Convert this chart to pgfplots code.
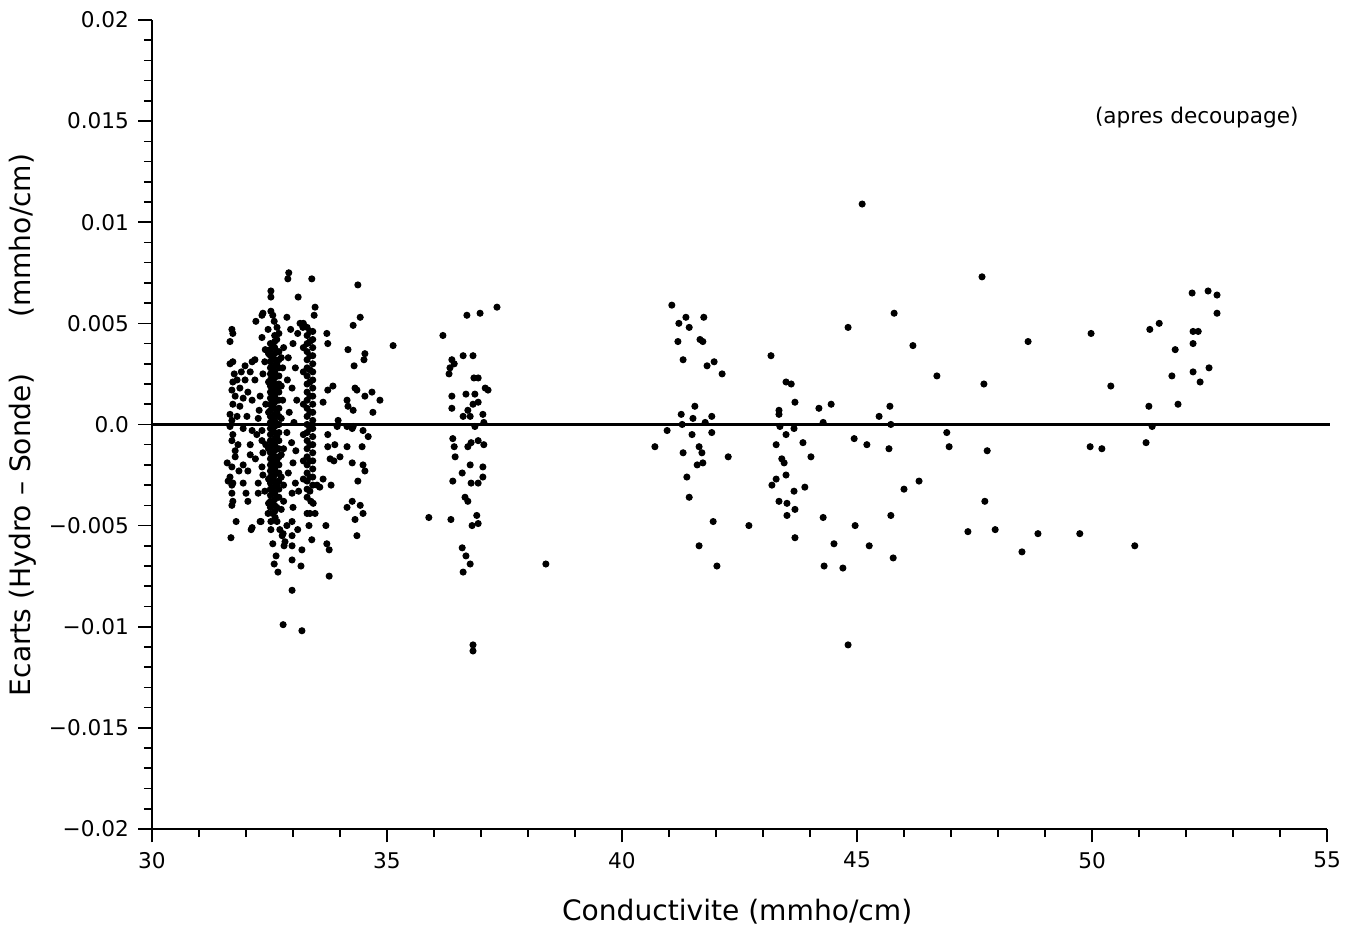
\documentclass[border=0pt]{standalone}
\usepackage{fontspec}
\setmainfont{DejaVu Sans}
\usepackage{pgfplots}
\pgfplotsset{compat=1.18}
\begin{document}
\begin{tikzpicture}
\begin{axis}[name=ax, scale only axis, width=434.75pt, height=299.3pt,
 xmin=30, xmax=55, ymin=-0.02, ymax=0.02,
 axis lines*=left, axis line style={line width=0.8pt},
 xtick={30,35,40,45,50,55}, minor x tick num=4,
 ytick={-0.02,-0.015,-0.01,-0.005,0,0.005,0.01,0.015,0.02},
 yticklabels={−0.02,−0.015,−0.01,−0.005,0.0,0.005,0.01,0.015,0.02},
 minor y tick num=4,
 tick align=outside, major tick length=5pt, minor tick length=3pt,
 tick style={line width=0.6pt, black},
 ticklabel style={font=\fontsize{8}{9}\selectfont},
 /pgf/number format/assume math mode=true,
 scaled y ticks=false,
 xlabel={Conductivite (mmho/cm)},
 ylabel={Ecarts (Hydro -- Sonde)\hspace{2em}(mmho/cm)},
 label style={font=\fontsize{10.4}{12}\selectfont},
 xlabel style={at={(axis description cs:0.498,-0.1026)}, anchor=center},
 ylabel style={at={(axis description cs:-0.11,0.4994)}, anchor=center},
 clip=false]
\addplot[black, line width=1pt] coordinates {(30,0) (55.06,0)};
\addplot[only marks, mark=*, mark size=1.1pt, black] table[row sep=\\] {
x y\\
31.70 0.0047\\ 31.72 0.0045\\ 31.66 0.0041\\ 32.34 0.0043\\ 32.21 0.0051\\ 32.36 0.0055\\ 32.34 0.0054\\ 32.41 0.0037\\
31.66 0.0030\\ 31.72 0.0031\\ 31.98 0.0029\\ 32.13 0.0031\\ 32.19 0.0032\\ 32.09 0.0026\\ 32.36 0.0025\\ 31.72 0.0021\\
31.81 0.0022\\ 31.98 0.0022\\ 32.19 0.0022\\ 31.70 0.0017\\ 31.77 0.0014\\ 31.94 0.0013\\ 32.13 0.0012\\ 32.30 0.0014\\
31.72 0.0010\\ 31.87 0.0009\\ 31.66 0.0005\\ 31.81 0.0004\\ 32.02 0.0004\\ 32.26 0.0003\\ 31.70 0.0002\\ 31.66 -0.0001\\
31.94 -0.0002\\ 32.13 -0.0003\\ 32.34 -0.0003\\ 31.72 -0.0005\\ 32.23 -0.0005\\ 31.70 -0.0008\\ 31.83 -0.0010\\ 32.09 -0.0010\\
32.34 -0.0008\\ 31.77 -0.0013\\ 32.36 -0.0014\\ 32.09 -0.0015\\ 31.60 -0.0019\\ 31.70 -0.0021\\ 31.94 -0.0020\\ 32.04 -0.0023\\
32.34 -0.0021\\ 31.66 -0.0026\\ 31.72 -0.0029\\ 31.94 -0.0029\\ 32.26 -0.0029\\ 31.70 -0.0034\\ 31.72 -0.0038\\ 32.04 -0.0038\\
32.26 -0.0034\\ 31.70 -0.0040\\ 31.79 -0.0048\\ 32.13 -0.0051\\ 32.30 -0.0048\\ 31.68 -0.0056\\ 32.11 -0.0052\\ 32.32 -0.0048\\
31.62 -0.0028\\ 31.70 -0.0030\\ 32.36 -0.0025\\ 32.40 -0.0033\\ 31.77 -0.0016\\ 31.87 0.0018\\ 32.04 0.0016\\ 31.85 -0.0023\\
32.20 -0.0017\\ 31.90 0.0026\\ 32.28 0.0007\\ 31.75 0.0025\\ 32.00 -0.0034\\ 32.42 0.0010\\ 32.42 -0.0010\\ 32.40 0.0031\\
32.52 0.0040\\ 32.52 0.0037\\ 32.52 0.0034\\ 32.52 0.0031\\ 32.52 0.0028\\ 32.52 0.0025\\ 32.52 0.0022\\ 32.52 0.0019\\
32.52 0.0016\\ 32.52 0.0013\\ 32.52 0.0010\\ 32.52 0.0007\\ 32.52 0.0004\\ 32.52 0.0001\\ 32.52 -0.0002\\ 32.52 -0.0005\\
32.52 -0.0008\\ 32.52 -0.0011\\ 32.52 -0.0014\\ 32.52 -0.0017\\ 32.52 -0.0020\\ 32.52 -0.0023\\ 32.52 -0.0026\\ 32.52 -0.0029\\
32.52 -0.0032\\ 32.52 -0.0035\\ 32.52 -0.0038\\ 32.52 -0.0041\\
32.61 0.0044\\ 32.61 0.0041\\ 32.61 0.0038\\ 32.61 0.0035\\ 32.61 0.0032\\ 32.61 0.0029\\ 32.61 0.0026\\ 32.61 0.0023\\
32.61 0.0020\\ 32.61 0.0017\\ 32.61 0.0014\\ 32.61 0.0011\\ 32.61 0.0008\\ 32.61 0.0005\\ 32.61 0.0002\\ 32.61 -0.0001\\
32.61 -0.0004\\ 32.61 -0.0007\\ 32.61 -0.0010\\ 32.61 -0.0013\\ 32.61 -0.0016\\ 32.61 -0.0019\\ 32.61 -0.0022\\ 32.61 -0.0025\\
32.61 -0.0028\\ 32.61 -0.0031\\ 32.61 -0.0034\\ 32.61 -0.0037\\ 32.61 -0.0040\\ 32.61 -0.0043\\
32.70 0.0036\\ 32.70 0.0032\\ 32.70 0.0028\\ 32.70 0.0024\\ 32.70 0.0020\\ 32.70 0.0016\\ 32.70 0.0012\\ 32.70 0.0008\\
32.70 0.0004\\ 32.70 0.0000\\ 32.70 -0.0004\\ 32.70 -0.0008\\ 32.70 -0.0012\\ 32.70 -0.0016\\ 32.70 -0.0020\\ 32.70 -0.0024\\
32.70 -0.0028\\ 32.70 -0.0032\\ 32.70 -0.0036\\
32.565 0.0039\\ 32.565 0.0033\\ 32.565 0.0027\\ 32.565 0.0021\\ 32.565 0.0015\\ 32.565 0.0009\\ 32.565 0.0003\\ 32.565 -0.0003\\
32.565 -0.0009\\ 32.565 -0.0015\\ 32.565 -0.0021\\ 32.565 -0.0027\\ 32.565 -0.0033\\ 32.565 -0.0039\\ 32.565 -0.0044\\
32.655 0.0042\\ 32.655 0.0036\\ 32.655 0.0030\\ 32.655 0.0024\\ 32.655 0.0018\\ 32.655 0.0012\\ 32.655 0.0006\\ 32.655 0.0000\\
32.655 -0.0006\\ 32.655 -0.0012\\ 32.655 -0.0018\\ 32.655 -0.0024\\ 32.655 -0.0030\\ 32.655 -0.0036\\ 32.655 -0.0041\\
32.48 0.0035\\ 32.48 0.0021\\ 32.48 0.0006\\ 32.48 -0.0012\\ 32.48 -0.0027\\ 32.48 -0.0039\\
32.75 0.0033\\ 32.75 0.0019\\ 32.75 0.0003\\ 32.75 -0.0015\\ 32.75 -0.0026\\ 32.75 -0.0042\\
32.53 0.0066\\ 32.53 0.0063\\ 32.53 0.0056\\ 32.57 0.0054\\ 32.66 0.0048\\ 32.60 0.0051\\ 32.70 0.0045\\ 32.47 0.0047\\
32.53 -0.0048\\ 32.66 -0.0048\\ 32.53 -0.0052\\ 32.72 -0.0052\\ 32.57 -0.0059\\ 32.81 -0.0060\\ 32.64 -0.0065\\ 32.60 -0.0069\\
32.68 -0.0073\\ 32.79 -0.0099\\ 32.77 -0.0055\\ 32.79 -0.0054\\ 32.83 -0.0058\\ 32.62 -0.0046\\ 32.47 -0.0044\\ 32.80 -0.0038\\
32.80 -0.0030\\ 32.78 0.0028\\ 32.78 0.0012\\ 32.80 -0.0012\\ 32.80 0.0038\\
32.91 0.0075\\ 32.89 0.0072\\ 33.11 0.0063\\ 32.87 0.0053\\ 32.95 0.0047\\ 33.00 0.0040\\ 32.90 0.0033\\ 33.05 0.0028\\
32.88 0.0022\\ 32.98 0.0018\\ 33.08 0.0012\\ 32.92 0.0006\\ 33.02 0.0001\\ 32.87 -0.0004\\ 32.97 -0.0009\\ 33.06 -0.0013\\
33.00 -0.0019\\ 32.90 -0.0024\\ 33.05 -0.0029\\ 32.98 -0.0034\\ 33.00 -0.0041\\ 32.98 -0.0048\\ 33.10 -0.0052\\ 32.98 -0.0055\\
32.98 -0.0060\\ 32.98 -0.0067\\ 33.17 -0.0070\\ 32.98 -0.0082\\ 33.19 -0.0102\\ 32.87 -0.0050\\ 33.19 -0.0062\\ 33.10 0.0045\\
33.12 -0.0033\\
33.30 0.0048\\ 33.30 0.0044\\ 33.30 0.0040\\ 33.30 0.0036\\ 33.30 0.0032\\ 33.30 0.0028\\ 33.30 0.0024\\ 33.30 0.0020\\
33.30 0.0016\\ 33.30 0.0012\\ 33.30 0.0008\\ 33.30 0.0004\\ 33.30 0.0000\\ 33.30 -0.0004\\ 33.30 -0.0008\\ 33.30 -0.0012\\
33.30 -0.0016\\ 33.30 -0.0020\\ 33.30 -0.0024\\ 33.30 -0.0028\\ 33.30 -0.0032\\ 33.30 -0.0036\\
33.36 0.0046\\ 33.36 0.0041\\ 33.36 0.0034\\ 33.36 0.0027\\ 33.36 0.0021\\ 33.36 0.0014\\ 33.36 0.0006\\ 33.36 -0.0002\\
33.36 -0.0010\\ 33.36 -0.0018\\ 33.36 -0.0026\\ 33.36 -0.0033\\
33.42 0.0046\\ 33.42 0.0042\\ 33.42 0.0038\\ 33.42 0.0034\\ 33.42 0.0030\\ 33.42 0.0026\\ 33.42 0.0022\\ 33.42 0.0018\\
33.42 0.0014\\ 33.42 0.0010\\ 33.42 0.0006\\ 33.42 0.0002\\ 33.42 -0.0002\\ 33.42 -0.0006\\ 33.42 -0.0010\\ 33.42 -0.0014\\
33.42 -0.0018\\ 33.42 -0.0022\\ 33.42 -0.0026\\ 33.42 -0.0030\\
33.22 0.0050\\ 33.22 0.0038\\ 33.22 0.0026\\ 33.22 0.0010\\ 33.22 -0.0005\\ 33.22 -0.0018\\ 33.22 -0.0027\\
33.40 0.0072\\ 33.47 0.0058\\ 33.45 0.0054\\ 33.21 0.0048\\ 33.15 0.0050\\ 33.38 -0.0038\\ 33.47 -0.0044\\ 33.34 -0.0050\\
33.40 -0.0057\\ 33.36 -0.0044\\ 33.30 -0.0044\\ 33.43 -0.0039\\ 33.70 -0.0050\\ 33.72 -0.0059\\ 33.77 -0.0062\\ 33.77 -0.0075\\
33.64 -0.0027\\ 33.81 -0.0030\\ 33.57 -0.0031\\ 33.51 -0.0030\\ 33.74 0.0017\\ 33.85 0.0019\\ 33.64 0.0011\\ 33.96 0.0002\\
33.74 -0.0011\\ 33.89 -0.0010\\ 33.79 -0.0017\\ 34.00 -0.0016\\ 34.15 -0.0011\\ 34.47 -0.0011\\ 34.26 -0.0019\\ 34.49 -0.0020\\
34.53 -0.0023\\ 34.38 -0.0028\\ 34.26 -0.0038\\ 34.15 -0.0041\\ 34.43 -0.0040\\ 34.49 -0.0044\\ 34.32 -0.0047\\ 34.36 -0.0055\\
34.15 0.0012\\ 34.17 0.0009\\ 34.28 0.0007\\ 34.32 0.0018\\ 34.36 0.0017\\ 34.53 0.0014\\ 34.68 0.0016\\ 34.70 0.0006\\
34.85 0.0012\\ 34.60 -0.0006\\ 34.49 -0.0003\\ 34.26 -0.0002\\ 33.94 -0.0001\\ 34.15 -0.0001\\ 34.28 -0.0001\\ 34.38 0.0069\\
34.43 0.0053\\ 34.28 0.0049\\ 33.72 0.0045\\ 33.74 0.0040\\ 35.13 0.0039\\ 34.17 0.0037\\ 34.53 0.0035\\ 34.51 0.0032\\
34.30 0.0029\\ 33.74 -0.0005\\ 33.87 -0.0018\\
37.34 0.0058\\ 36.98 0.0055\\ 36.70 0.0054\\ 36.19 0.0044\\ 36.38 0.0032\\ 36.43 0.0030\\ 36.62 0.0034\\ 36.83 0.0034\\
36.34 0.0028\\ 36.32 0.0025\\ 36.85 0.0023\\ 36.94 0.0023\\ 37.09 0.0018\\ 37.15 0.0017\\ 36.38 0.0014\\ 36.68 0.0015\\
36.87 0.0015\\ 36.94 0.0011\\ 36.83 0.0010\\ 36.38 0.0008\\ 36.72 0.0007\\ 36.62 0.0004\\ 36.77 0.0004\\ 37.04 0.0005\\
37.06 0.0001\\ 36.87 -0.0001\\ 36.40 -0.0007\\ 36.43 -0.0011\\ 36.72 -0.0011\\ 36.79 -0.0009\\ 36.94 -0.0008\\ 37.06 -0.0010\\
36.45 -0.0016\\ 36.77 -0.0020\\ 37.04 -0.0021\\ 36.60 -0.0024\\ 37.04 -0.0026\\ 36.40 -0.0028\\ 36.79 -0.0029\\ 36.94 -0.0029\\
36.66 -0.0036\\ 36.72 -0.0038\\ 35.89 -0.0046\\ 36.36 -0.0047\\ 36.91 -0.0045\\ 36.94 -0.0049\\ 36.81 -0.0050\\ 36.60 -0.0061\\
36.68 -0.0065\\ 36.77 -0.0069\\ 36.62 -0.0073\\ 38.38 -0.0069\\ 36.83 -0.0109\\ 36.83 -0.0112\\
41.06 0.0059\\ 41.36 0.0053\\ 41.21 0.0050\\ 41.74 0.0053\\ 41.43 0.0048\\ 41.19 0.0041\\ 41.66 0.0042\\ 41.72 0.0041\\
41.30 0.0032\\ 41.81 0.0029\\ 41.96 0.0031\\ 42.13 0.0025\\ 41.55 0.0009\\ 41.26 0.0005\\ 41.51 0.0003\\ 41.77 0.0001\\
41.91 0.0004\\ 41.28 0.0000\\ 40.96 -0.0003\\ 41.91 -0.0004\\ 41.49 -0.0005\\ 40.70 -0.0011\\ 41.64 -0.0011\\ 41.30 -0.0014\\
41.70 -0.0014\\ 42.26 -0.0016\\ 41.60 -0.0020\\ 41.72 -0.0019\\ 41.38 -0.0026\\ 41.43 -0.0036\\ 41.94 -0.0048\\ 42.70 -0.0050\\
41.64 -0.0060\\ 42.02 -0.0070\\
43.17 0.0034\\ 43.49 0.0021\\ 43.60 0.0020\\ 43.68 0.0011\\ 43.34 0.0007\\ 43.34 0.0005\\ 44.19 0.0008\\ 44.45 0.0010\\
44.28 0.0001\\ 43.36 -0.0001\\ 43.66 -0.0002\\ 43.49 -0.0005\\ 43.28 -0.0010\\ 43.85 -0.0009\\ 44.02 -0.0016\\ 43.40 -0.0017\\
43.45 -0.0019\\ 43.49 -0.0025\\ 43.28 -0.0027\\ 43.19 -0.0030\\ 43.89 -0.0031\\ 43.66 -0.0033\\ 43.34 -0.0038\\ 43.51 -0.0039\\
43.68 -0.0042\\ 43.51 -0.0045\\ 43.68 -0.0056\\ 44.28 -0.0046\\ 44.51 -0.0059\\ 44.30 -0.0070\\ 44.70 -0.0071\\ 44.96 -0.0050\\
45.26 -0.0060\\ 44.81 0.0048\\ 44.81 -0.0109\\ 45.79 0.0055\\ 46.19 0.0039\\ 45.47 0.0004\\ 45.70 0.0009\\ 45.72 0.0000\\
44.94 -0.0007\\ 45.21 -0.0010\\ 45.68 -0.0012\\ 46.00 -0.0032\\ 46.32 -0.0028\\ 45.72 -0.0045\\ 45.77 -0.0066\\ 45.11 0.0109\\
47.66 0.0073\\ 46.70 0.0024\\ 47.70 0.0020\\ 48.64 0.0041\\ 49.98 0.0045\\ 50.40 0.0019\\ 51.23 0.0047\\ 51.43 0.0050\\
52.13 0.0065\\ 52.47 0.0066\\ 52.66 0.0064\\ 52.66 0.0055\\ 52.15 0.0046\\ 52.26 0.0046\\ 52.15 0.0040\\ 51.77 0.0037\\
51.70 0.0024\\ 52.15 0.0026\\ 52.49 0.0028\\ 52.30 0.0021\\ 51.21 0.0009\\ 51.83 0.0010\\ 51.28 -0.0001\\ 46.91 -0.0004\\
46.96 -0.0011\\ 47.77 -0.0013\\ 49.96 -0.0011\\ 50.21 -0.0012\\ 51.15 -0.0009\\ 47.72 -0.0038\\ 47.36 -0.0053\\ 47.94 -0.0052\\
48.85 -0.0054\\ 49.74 -0.0054\\ 48.51 -0.0063\\ 50.91 -0.0060\\
};
\node[font=\fontsize{8}{9}\selectfont] at (axis cs:52.23,0.0152) {(apres decoupage)};
\end{axis}
\path ([shift={(-56.24pt,-39.22pt)}]ax.south west) rectangle ([shift={(9.62pt,7.4pt)}]ax.north east);
\end{tikzpicture}
\end{document}
